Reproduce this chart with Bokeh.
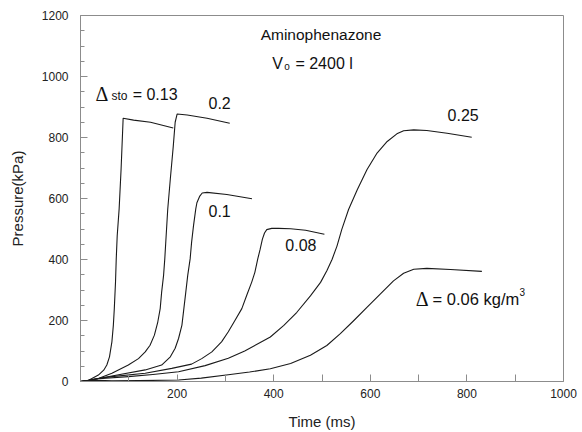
from bokeh.plotting import figure
from bokeh.embed import file_html
from bokeh.resources import INLINE
from bokeh.models import Range1d, FixedTicker, Label

# time (ms) and pressure (kPa), one pair per dust concentration
t_013 = [0, 17, 37, 48, 54.5, 60, 65, 68, 70, 72.5, 74, 76, 80, 84, 88.3, 110, 145, 192]
p_013 = [0, 4, 21, 37, 54, 81, 130, 184, 239, 326, 402, 478, 566, 695, 863, 857, 850, 831]

t_02 = [0, 17, 37, 65, 99, 120, 134, 144, 153, 160, 165, 168, 172, 174.5, 176.5, 180.6,
        186, 192, 196, 200, 221, 262, 309]
p_02 = [0, 4, 10, 27, 54, 75, 97, 119, 152, 195, 239, 293, 348, 402, 456, 565,
        665, 770, 850, 877, 874, 863, 847]

t_01 = [0, 17, 37, 79, 134, 168, 186, 196, 203, 210, 214, 218, 222, 227, 230, 234, 238.6,
        241, 247, 252, 262, 303, 355]
p_01 = [0, 4, 10, 22, 38, 54, 81, 109, 141, 185, 239, 293, 348, 402, 456, 511, 565,
        586, 608, 618, 620, 613, 599]

t_008 = [0, 17, 37, 65, 134, 189, 230, 251, 272, 292, 306, 320, 334, 344, 354.5, 361, 367,
         372, 376.6, 381, 385.6, 396, 410, 435, 466, 505]
p_008 = [0, 4, 10, 16, 27, 43, 57, 75, 97, 130, 163, 201, 239, 282, 326, 358, 402,
         434, 467, 487, 498, 502, 502, 501, 496, 483]

t_025 = [0, 17, 37, 99, 150, 203, 258, 306, 340, 375, 393, 421, 448, 476, 497, 510, 521,
         531, 541, 555, 573, 593, 614, 635, 655, 669, 690, 717, 759, 810]
p_025 = [0, 4, 9, 16, 23, 32, 52, 76, 100, 130, 146, 184, 227, 281, 325, 363, 401,
         444, 499, 564, 629, 694, 749, 787, 812, 822, 825, 823, 814, 801]

t_006 = [0, 17, 37, 65, 120, 203, 250, 306, 350, 393, 435, 476, 510, 538, 566, 593, 621,
         648, 669, 690, 717, 766, 831]
p_006 = [0, 3, 4, 2, 3, 5, 11, 22, 31, 42, 59, 86, 118, 157, 200, 243, 287,
         330, 355, 368, 371, 367, 361]

x_ticks = [0, 200, 400, 600, 800, 1000]
x_minor = [100, 300, 500, 700, 900]
y_ticks = [0, 200, 400, 600, 800, 1000, 1200]
y_minor = [v for v in range(50, 1200, 50) if v % 200]

FONT = "Liberation Sans"
GRAY = "#8c8c8c"

p = figure(width=582, height=432, output_backend="svg", toolbar_location=None, tools="",
           x_range=Range1d(0, 1000), y_range=Range1d(0, 1200),
           min_border_left=80, min_border_right=19, min_border_top=15, min_border_bottom=49)

for t, pr in [(t_013, p_013), (t_02, p_02), (t_01, p_01), (t_008, p_008), (t_025, p_025), (t_006, p_006)]:
    p.line(t, pr, line_color="#1a1a1a", line_width=1.1, line_join="round")

p.xgrid.grid_line_color = None
p.ygrid.grid_line_color = None
p.outline_line_color = GRAY
p.background_fill_color = "white"
p.border_fill_color = "white"

p.xaxis.ticker = FixedTicker(ticks=x_ticks, minor_ticks=x_minor)
p.yaxis.ticker = FixedTicker(ticks=y_ticks, minor_ticks=y_minor)
p.xaxis.major_label_overrides = {0: ""}

for ax in (p.xaxis, p.yaxis):
    ax.axis_line_color = GRAY
    ax.major_tick_line_color = GRAY
    ax.minor_tick_line_color = GRAY
    ax.major_tick_out = 0
    ax.minor_tick_out = 0
    ax.major_label_text_font = FONT
    ax.major_label_text_font_size = "12px"
    ax.major_label_text_color = "#222222"
    ax.axis_label_text_font = FONT
    ax.axis_label_text_font_size = "15px"
    ax.axis_label_text_font_style = "normal"
    ax.axis_label_text_color = "#222222"

p.xaxis.major_tick_in = 7
p.xaxis.minor_tick_in = 7
p.yaxis.major_tick_in = 7
p.yaxis.minor_tick_in = 4
p.xaxis.major_label_standoff = 7
p.yaxis.major_label_standoff = 12
p.xaxis.axis_label = "Time (ms)"
p.yaxis.axis_label = "Pressure(kPa)"
p.xaxis.axis_label_standoff = 12
p.yaxis.axis_label_standoff = 13


def note(x, y, text, size="16px", font=FONT, **kw):
    p.add_layout(Label(x=x, y=y, text=text, text_font=font, text_font_size=size,
                       text_color="#111111", text_baseline="alphabetic", **kw))


note(373, 1139, "Aminophenazone", size="15.5px")
note(397, 1043, "V")
note(422, 1032, "o", size="10px")
note(445, 1043, "= 2400 l")
note(31, 942, "\u0394", size="20px", font="Liberation Serif")
note(64, 935, "sto", size="12px")
note(108, 942, "= 0.13")
note(265, 912, "0.2")
note(265, 558, "0.1")
note(424, 449, "0.08")
note(760, 873, "0.25")
note(694, 271, "\u0394", size="20px", font="Liberation Serif")
note(729, 271, "= 0.06 kg/m", size="16.5px")
note(909, 292, "3", size="10px")

open("out.html", "w").write(file_html(p, INLINE))
